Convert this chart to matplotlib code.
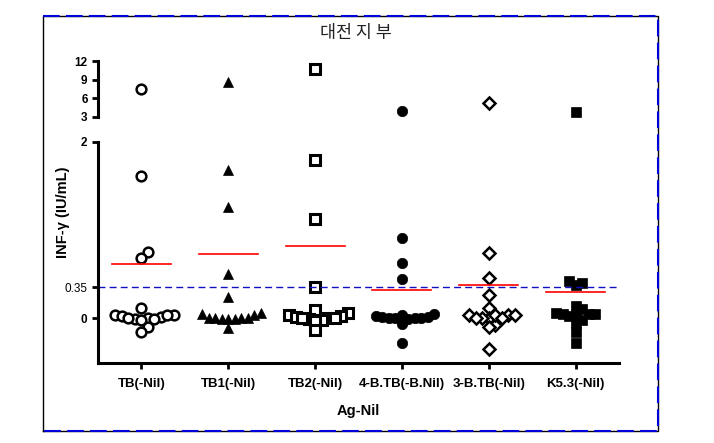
import numpy as np
import matplotlib.pyplot as plt
from matplotlib.lines import Line2D

plt.rcParams['font.family'] = ['Liberation Sans', 'DejaVu Sans']

groups = ['TB(-Nil)', 'TB1(-Nil)', 'TB2(-Nil)', '4-B.TB(-B.Nil)', '3-B.TB(-Nil)', 'K5.3(-Nil)']

# IFN-gamma values (IU/mL)
tb = [7.5, 1.61, 0.75, 0.68, 0.11, 0.04, 0.01, 0.02, 0.0, -0.01, 0.0, 0.04,
      -0.02, -0.10, -0.16, 0.03, -0.01]
tb1 = [8.7, 1.68, 1.26, 0.50, 0.24, 0.06, 0.05, 0.04, 0.0, 0.0, -0.01, 0.0,
       -0.01, 0.0, -0.01, -0.11]
tb2 = [10.7, 1.80, 1.12, 0.35, 0.09, 0.06, 0.04, 0.02, 0.0, 0.0, -0.01, -0.02,
       0.01, 0.0, -0.03, -0.14]
b4_tb = [4.0, 0.91, 0.63, 0.44, 0.05, 0.03, 0.02, 0.01, 0.0, 0.0, 0.0, -0.01,
         0.01, 0.0, -0.07, -0.28]
b3_tb = [5.3, 0.74, 0.46, 0.26, 0.12, 0.04, 0.0, -0.08, 0.03, 0.0, -0.10, 0.03,
         0.0, 0.04, 0.0, -0.35]
k53 = [3.8, 0.42, 0.38, 0.40, 0.14, 0.10, 0.05, 0.04, 0.05, 0.06, 0.05, -0.06,
       -0.02, 0.02, -0.16, -0.28]
series = [tb, tb1, tb2, b4_tb, b3_tb, k53]

means = [0.61, 0.73, 0.82, 0.32, 0.375, 0.30]
cutoff = 0.35

top_ticks = [3, 6, 9, 12]
low_ticks = [0, 0.35, 2]

styles = [
    dict(marker='o', mfc='white', mec='black', ms=7, mew=1.8),
    dict(marker='^', mfc='black', mec='black', ms=7.5, mew=0.5),
    dict(marker='s', mfc='white', mec='black', ms=7, mew=2.2),
    dict(marker='o', mfc='black', mec='black', ms=7.5, mew=0.5),
    dict(marker='D', mfc='white', mec='black', ms=6.5, mew=1.8),
    dict(marker='s', mfc='black', mec='black', ms=6.5, mew=0.5),
]

PX_X = 86.8   # pixels per category
PX_Y = 88.0   # pixels per IU/mL on the lower segment


def swarm(vals, step=6.5, height=8.0):
    # spread points that sit at nearly the same level side by side
    order = np.argsort(vals)
    placed = []
    dx = np.zeros(len(vals))
    for i in order:
        y = vals[i] * PX_Y
        cands = [0.0]
        for k in range(1, 30):
            cands += [k * step, -k * step]
        for c in cands:
            if all(abs(c - px) > step * 0.99 or abs(y - py) > height for px, py in placed):
                break
        placed.append((c, y))
        dx[i] = c / PX_X
    return dx


fig = plt.figure(figsize=(7.14, 4.43), dpi=100)
ax_top = fig.add_axes([0.1373, 0.7359, 0.7297, 0.1264])
ax = fig.add_axes([0.1373, 0.1806, 0.7297, 0.4989])

for i, vals in enumerate(series):
    vals = np.array(vals)
    hi = vals > 2.5
    lo = ~hi
    dx = swarm(vals[lo])
    ax.plot(i + dx, vals[lo], ls='none', **styles[i], clip_on=False)
    ax_top.plot(np.full(hi.sum(), i), vals[hi], ls='none', **styles[i])
    ax.plot([i - 0.34, i + 0.34], [means[i], means[i]], color='red', lw=1.2)

ax.axhline(cutoff, color='#1010c0', lw=1, ls=(0, (5, 3)))

for a in (ax, ax_top):
    a.set_xlim(-0.5, 5.5)
    for s in ('top', 'right'):
        a.spines[s].set_visible(False)
    a.spines['left'].set_linewidth(2.2)
    a.tick_params(axis='y', width=2, length=4, labelsize=8.5)

ax_top.set_ylim(3, 12)
ax_top.set_yticks(top_ticks)
ax_top.set_yticklabels([str(t) for t in top_ticks], fontweight='bold')
ax_top.spines['bottom'].set_visible(False)
ax_top.set_xticks([])
ax_top.patch.set_alpha(0)

ax.set_ylim(-0.51, 2)
ax.set_yticks(low_ticks)
ax.set_yticklabels(['0', '0.35', '2'])
for lab in ax.get_yticklabels():
    if lab.get_text() != '0.35':
        lab.set_fontweight('bold')
ax.spines['bottom'].set_linewidth(2.2)
ax.set_xticks(range(len(groups)))
ax.set_xticklabels(groups, fontweight='bold', fontsize=9.5)
ax.tick_params(axis='x', width=2, length=4, pad=7)
ax.patch.set_alpha(0)

fig.text(63 / 714, 1 - 212 / 443, 'INF-γ (IU/mL)', rotation=90, ha='center', va='center',
         fontsize=10.5, fontweight='bold')
fig.text(358 / 714, 1 - 411 / 443, 'Ag-Nil', ha='center', va='center',
         fontsize=10.5, fontweight='bold')
fig.text(356 / 714, 1 - 33 / 443, '대전 지 부', ha='center', va='center',
         fontsize=12.5, family=['Noto Sans CJK KR', 'DejaVu Sans'], color='#222222')

# outer frame
x0, x1, y0, y1 = 43 / 714, 658 / 714, 1 - 431 / 443, 1 - 16 / 443
fig.add_artist(Line2D([x0, x1, x1, x0, x0], [y0, y0, y1, y1, y0], color='black', lw=1))
fig.add_artist(Line2D([x0, x1, x1, x0], [y1, y1, y0, y0], color='#0000dd', lw=1.5,
                      ls=(0, (8, 3))))

fig.savefig('out.png', dpi=100)
